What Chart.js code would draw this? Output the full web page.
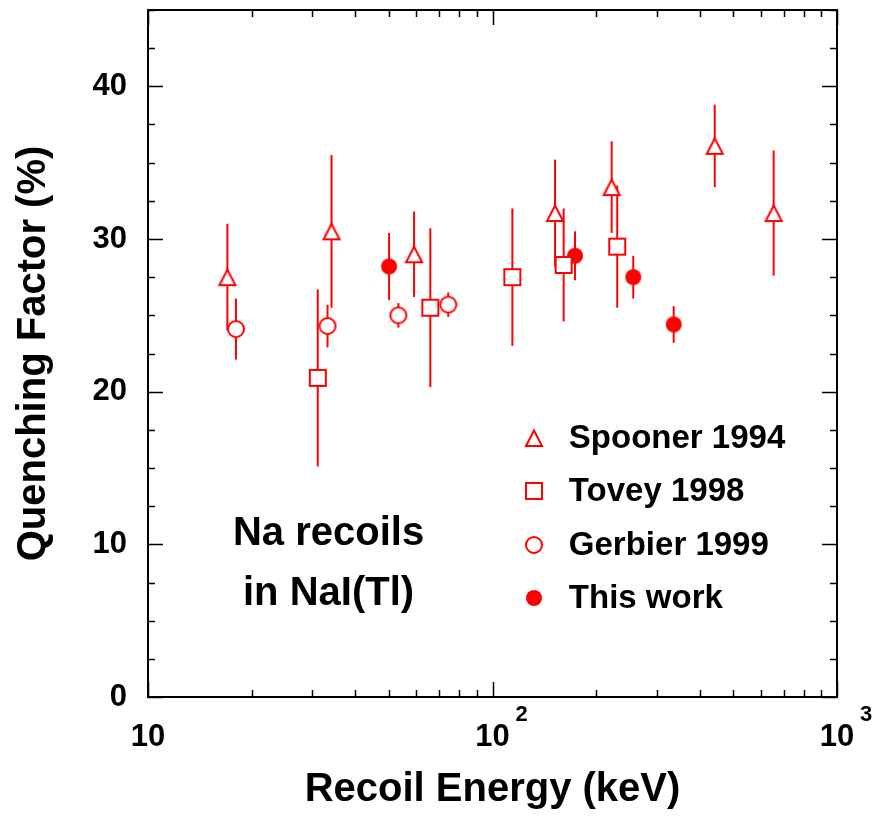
<!DOCTYPE html>
<html>
<head>
<meta charset="utf-8">
<script src="https://cdn.jsdelivr.net/npm/chart.js@4/dist/chart.umd.min.js"></script>
<style>
  html, body { margin: 0; padding: 0; background: #fff; }
</style>
</head>
<body>
<canvas id="chart" width="877" height="816"></canvas>
<script>
// recoil energy (keV), quenching factor (%), error (%)
const spoonerEnergy = [17.0, 34.1, 59.2, 151.9, 221.8, 441.6, 654.7];
const spoonerQF = [27.5, 30.5, 29.0, 31.7, 33.4, 36.1, 31.7];
const spoonerErr = [3.5, 5.0, 2.8, 3.5, 3.0, 2.7, 4.1];

const toveyEnergy = [31.1, 66.0, 114.2, 160.9, 230.2];
const toveyQF = [20.9, 25.5, 27.5, 28.3, 29.5];
const toveyErr = [5.8, 5.2, 4.5, 3.7, 4.0];

const gerbierEnergy = [18.0, 33.2, 53.3, 74.4];
const gerbierQF = [24.1, 24.3, 25.0, 25.7];
const gerbierErr = [2.0, 1.4, 0.8, 0.8];

const thisWorkEnergy = [50.1, 173.6, 256.2, 335.7];
const thisWorkQF = [28.2, 28.9, 27.5, 24.4];
const thisWorkErr = [2.2, 1.6, 1.4, 1.2];

const seriesLabels = ["Spooner 1994", "Tovey 1998", "Gerbier 1999", "This work"];
const xMajorTicks = [10, 100, 1000];
const yMajorTicks = [0, 10, 20, 30, 40];
const yMinorStep = 2.5;
const noteLines = ["Na recoils", "in NaI(Tl)"];

const RED = "#ff0000";
const FONT = "'Liberation Sans', Arial, Helvetica, sans-serif";

function makeMarker(kind) {
  const c = document.createElement("canvas");
  c.width = 22;
  c.height = 22;
  const g = c.getContext("2d");
  g.strokeStyle = RED;
  g.fillStyle = "#fff";
  g.lineWidth = 2;
  g.beginPath();
  if (kind === "triangle") {
    g.moveTo(11, 3.5);
    g.lineTo(19, 19);
    g.lineTo(3, 19);
    g.closePath();
  } else if (kind === "square") {
    g.rect(3, 3, 16, 16);
  } else {
    g.arc(11, 11, 8, 0, Math.PI * 2);
  }
  if (kind === "dot") {
    g.fillStyle = RED;
    g.fill();
  } else {
    g.fill();
    g.stroke();
  }
  return c;
}

const markers = [makeMarker("triangle"), makeMarker("square"), makeMarker("circle"), makeMarker("dot")];

function toPoints(energy, qf) {
  return energy.map((e, i) => ({ x: e, y: qf[i] }));
}

const errors = [spoonerErr, toveyErr, gerbierErr, thisWorkErr];

const datasets = [
  toPoints(spoonerEnergy, spoonerQF),
  toPoints(toveyEnergy, toveyQF),
  toPoints(gerbierEnergy, gerbierQF),
  toPoints(thisWorkEnergy, thisWorkQF),
].map((data, i) => ({
  label: seriesLabels[i],
  data: data,
  pointStyle: markers[i],
  pointRadius: 9,
  showLine: false,
}));

const errorBarPlugin = {
  id: "errorBars",
  beforeDatasetsDraw(chart) {
    const ctx = chart.ctx;
    const yScale = chart.scales.y;
    ctx.save();
    ctx.strokeStyle = RED;
    ctx.lineWidth = 2;
    chart.data.datasets.forEach((ds, di) => {
      const meta = chart.getDatasetMeta(di);
      meta.data.forEach((pt, i) => {
        const v = ds.data[i].y;
        const err = errors[di][i];
        ctx.beginPath();
        ctx.moveTo(pt.x, yScale.getPixelForValue(v + err));
        ctx.lineTo(pt.x, yScale.getPixelForValue(v - err));
        ctx.stroke();
      });
    });
    ctx.restore();
  },
};

const framePlugin = {
  id: "frame",
  afterDraw(chart) {
    const ctx = chart.ctx;
    const { left, right, top, bottom } = chart.chartArea;
    const xs = chart.scales.x;
    const ys = chart.scales.y;
    const major = 15;
    const minor = 7;
    ctx.save();
    ctx.strokeStyle = "#000";
    ctx.lineWidth = 2;
    ctx.strokeRect(left, top, right - left, bottom - top);

    // x ticks, inward on bottom and top
    const xTicks = [];
    for (let d = 10; d < 1000; d *= 10) {
      xTicks.push({ v: d, len: major });
      for (let k = 2; k <= 9; k++) xTicks.push({ v: d * k, len: minor });
    }
    xTicks.push({ v: 1000, len: major });
    ctx.lineWidth = 1.5;
    ctx.beginPath();
    xTicks.forEach((t) => {
      const px = Math.round(xs.getPixelForValue(t.v)) + 0.5;
      ctx.moveTo(px, bottom);
      ctx.lineTo(px, bottom - t.len);
      ctx.moveTo(px, top);
      ctx.lineTo(px, top + t.len);
    });
    // y ticks, inward on left and right
    for (let v = 0; v <= ys.max; v += yMinorStep) {
      const len = yMajorTicks.includes(v) ? major : minor;
      const py = Math.round(ys.getPixelForValue(v)) + 0.5;
      ctx.moveTo(left, py);
      ctx.lineTo(left + len, py);
      ctx.moveTo(right, py);
      ctx.lineTo(right - len, py);
    }
    ctx.stroke();

    // exponents of the decade labels
    ctx.fillStyle = "#000";
    ctx.font = "bold 22px " + FONT;
    ctx.textAlign = "left";
    ctx.textBaseline = "middle";
    xMajorTicks.forEach((v) => {
      const exp = Math.round(Math.log10(v));
      if (exp > 1) {
        ctx.fillText(String(exp), xs.getPixelForValue(v) + 23, bottom + 18);
      }
    });

    // legend
    const w = right - left;
    const lx = left + w * 0.56;
    ctx.font = "bold 33px " + FONT;
    seriesLabels.forEach((label, i) => {
      const ly = top + 428 + i * 53.3;
      const m = markers[i];
      ctx.drawImage(m, Math.round(lx - m.width / 2), Math.round(ly - m.height / 2));
      ctx.fillText(label, lx + 35, ly + 1);
    });

    // annotation
    ctx.font = "bold 40px " + FONT;
    ctx.textAlign = "center";
    ctx.textBaseline = "alphabetic";
    noteLines.forEach((line, i) => {
      ctx.fillText(line, left + w * 0.262, top + 535 + i * 60);
    });
    ctx.restore();
  },
};

new Chart(document.getElementById("chart").getContext("2d"), {
  type: "scatter",
  data: { datasets: datasets },
  options: {
    responsive: false,
    animation: false,
    layout: { padding: { top: 10, right: 40, left: 0, bottom: 0 } },
    plugins: {
      legend: { display: false },
      tooltip: { enabled: false },
    },
    scales: {
      x: {
        type: "logarithmic",
        position: "bottom",
        min: 10,
        max: 1000,
        grid: { display: false, drawTicks: false },
        border: { display: false },
        afterBuildTicks: (scale) => {
          scale.ticks = xMajorTicks.map((v) => ({ value: v }));
        },
        afterFit: (scale) => {
          scale.height = 119;
          scale.paddingLeft = 0;
          scale.paddingRight = 0;
        },
        ticks: {
          autoSkip: false,
          maxRotation: 0,
          padding: 22,
          color: "#000",
          font: { family: FONT, size: 31, weight: "bold" },
          callback: () => "10",
        },
        title: {
          display: true,
          text: "Recoil Energy (keV)",
          color: "#000",
          font: { family: FONT, size: 40, weight: "bold" },
          padding: { top: 0, bottom: 2 },
        },
      },
      y: {
        min: 0,
        max: 45,
        grid: { display: false, drawTicks: false },
        border: { display: false },
        afterBuildTicks: (scale) => {
          scale.ticks = yMajorTicks.map((v) => ({ value: v }));
        },
        afterFit: (scale) => {
          scale.width = 148;
          scale.paddingTop = 0;
          scale.paddingBottom = 0;
        },
        ticks: {
          padding: 21,
          color: "#000",
          font: { family: FONT, size: 31, weight: "bold" },
        },
        title: {
          display: true,
          text: "Quenching Factor (%)",
          color: "#000",
          font: { family: FONT, size: 40, weight: "bold" },
          padding: { top: 10, bottom: 0 },
        },
      },
    },
  },
  plugins: [errorBarPlugin, framePlugin],
});
</script>
</body>
</html>
